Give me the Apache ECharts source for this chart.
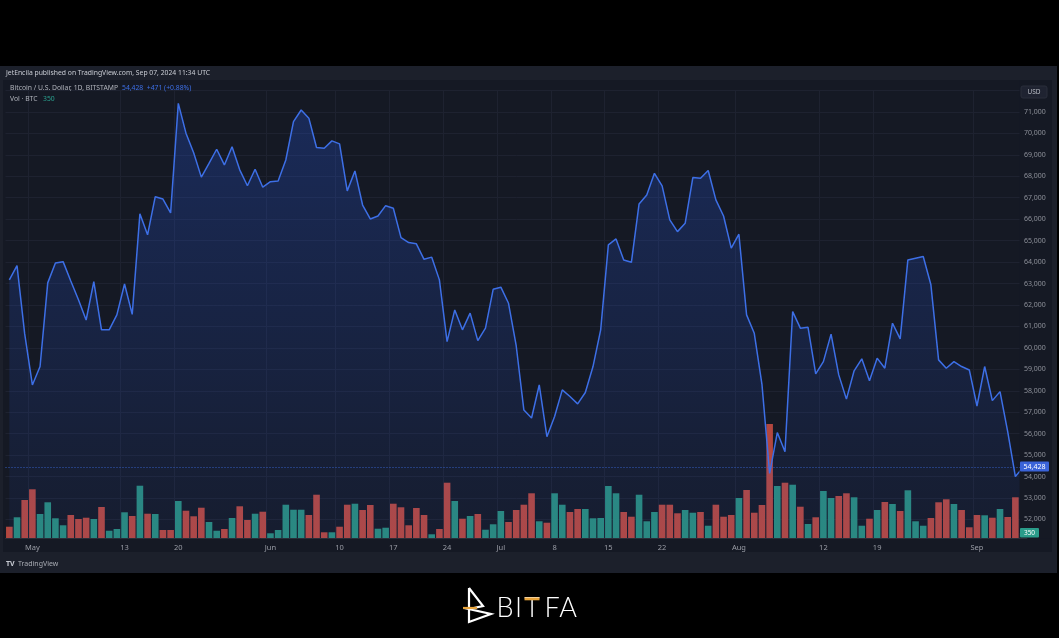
<!DOCTYPE html>
<html><head><meta charset="utf-8">
<script src="https://cdn.jsdelivr.net/npm/echarts/dist/echarts.min.js"></script>
<style>html,body{margin:0;padding:0;background:#000;}#c{width:1059px;height:638px;}</style>
</head><body><div id="c"></div>
<script>
// ---- data ----
const startDate = '2024-04-28';
const dayCount = 133;
const closes = [
63168,63835,60650,58270,59130,63030,63960,64020,63120,62240,61300,63090,60840,60840,61540,62980,61560,66250,65270,67050,66940,66290,71400,70010,69100,67960,68600,69260,68530,69380,68300,67560,68330,67490,
67750,67780,68760,70550,71090,70710,69340,69310,69650,69510,67320,68250,66660,66010,66150,66630,66510,65140,64910,64850,64130,64230,63170,60290,61770,60840,61620,60340,60920,62730,
62830,62080,60100,57100,56730,58270,55860,56800,58040,57730,57390,57920,59130,60840,64800,65080,64100,63990,66710,67130,68140,67550,65970,65420,65810,67940,67910,68270,66900,66150,64650,
65300,61540,60680,58300,54150,56050,55160,61690,60920,60960,58790,59360,60640,58740,57610,58930,59490,58470,59520,59050,61150,60420,64100,64180,64260,62940,59440,59050,59360,59130,58970,
57290,59130,57540,57960,56100,54000,54428];
const volumes = [
790,1450,2660,3410,1680,2500,1380,890,1610,1330,1420,1330,2170,510,630,1800,1540,3660,1700,1680,560,560,2590,1910,1520,2120,1120,510,630,1400,2220,1260,1700,1840,
330,560,2330,1980,1980,1610,3030,400,400,790,2330,2400,1960,2310,650,720,2400,2150,890,2100,1610,260,630,3870,2590,1350,1540,1680,580,960,
1890,1120,1960,2330,3130,1170,1070,3130,2330,1820,2030,2030,1380,1400,3640,3130,1820,1490,3030,1170,1820,2330,2330,1730,1960,1770,1820,860,2330,1490,1610,
2800,3360,1770,2310,7980,3640,3870,3730,2190,980,1450,3290,2800,2940,3130,2850,860,1350,1960,2520,2380,1890,3340,1170,860,1400,2500,2710,2380,1960,750,
1610,1590,1420,2030,1470,2850,350];
// u = up (teal) bar, d = down (red) bar, one per day
const volDir = (
'dudduuuudd' + 'duduuududu' + 'dduddduudu' + 'dduduuuuud' + 'dduddudduu' +
'ddddduddud' + 'uduuuddddu' + 'duudduuuuu' + 'dduuuddduu' + 'dudddudddd' +
'udududuudd' + 'uudududuuu' + 'dddudddudu' + 'ddu').split('');
const tickDates = ['2024-05-01','2024-05-13','2024-05-20','2024-06-01','2024-06-10','2024-06-17','2024-06-24','2024-07-01','2024-07-08','2024-07-15','2024-07-22','2024-08-01','2024-08-12','2024-08-19','2024-09-01'];
const tickLabels = ['May','13','20','Jun','10','17','24','Jul','8','15','22','Aug','12','19','Sep'];
const lastPrice = 54428;
const lastVol = 350;

// ---- build ----
const dates = [];
{
  const d0 = new Date(startDate + 'T00:00:00Z');
  for (let i = 0; i < dayCount; i++) {
    const d = new Date(d0.getTime() + i * 86400000);
    dates.push(d.toISOString().slice(0, 10));
  }
}
const UP = '#2a8a7b', DOWN = '#b3473f';
const isTick = (i, v) => tickDates.indexOf(v) >= 0;
const volData = volumes.map((v, i) => ({ value: v, itemStyle: { color: volDir[i] === 'u' ? UP : DOWN } }));

const PLOT = '#151924', BAND = '#1c202b', GRIDC = '#1e2230';
const FONT = 'Noto Sans, Lato, sans-serif';
const chart = echarts.init(document.getElementById('c'), null, { renderer: 'canvas' });
const fmt = v => v.toLocaleString('en-US');

const logoLetters = [['B', 505], ['I', 518.5], ['T', 532], ['F', 552], ['A', 568]];
const logoText = logoLetters.map(([ch, cx]) => ({
  type: 'text', z: 20, x: cx, y: 608,
  style: { text: ch, fill: '#ffffff', font: '300 27px Lato, ' + FONT, align: 'center', verticalAlign: 'middle' }
}));

chart.setOption({
  backgroundColor: '#000',
  animation: false,
  grid: [
    { left: 5.5, width: 1021.4, top: 90.5, height: 450.4 },
    { left: 5.5, width: 1021.4, top: 398, height: 140 }
  ],
  xAxis: [
    { gridIndex: 0, type: 'category', data: dates, boundaryGap: true,
      axisLine: { show: false }, axisTick: { show: false }, axisLabel: { show: false },
      splitLine: { show: true, interval: isTick, lineStyle: { color: GRIDC, width: 1 } } },
    { gridIndex: 1, type: 'category', data: dates, boundaryGap: true, z: 10,
      axisLine: { show: true, lineStyle: { color: '#2a2e39' } }, axisTick: { show: false },
      axisLabel: { interval: isTick, color: '#9a9da6', fontSize: 7.5, fontFamily: FONT, margin: 6,
        formatter: v => { const k = tickDates.indexOf(v); return k >= 0 ? tickLabels[k] : ''; } },
      splitLine: { show: false } }
  ],
  yAxis: [
    { gridIndex: 0, type: 'value', position: 'right', min: 51000, max: 72000, interval: 1000,
      axisLine: { show: false }, axisTick: { show: false }, axisLabel: { show: false },
      splitLine: { show: true, lineStyle: { color: GRIDC, width: 1 } } },
    { gridIndex: 0, type: 'value', position: 'right', min: 51000, max: 72000, interval: 1000, z: 10,
      axisLine: { show: false }, axisTick: { show: false }, splitLine: { show: false },
      axisLabel: { color: '#8e919a', fontSize: 7, fontFamily: FONT, margin: -3,
        formatter: v => (v >= 72000 || v < 52000) ? '' : fmt(v) } },
    { gridIndex: 1, type: 'value', min: 0, max: 9800, show: false, splitLine: { show: false } }
  ],
  series: [
    { type: 'bar', xAxisIndex: 1, yAxisIndex: 2, data: volData, barWidth: '86%', z: 1 },
    { type: 'line', xAxisIndex: 0, yAxisIndex: 0, data: closes, symbol: 'none', z: 2,
      lineStyle: { color: '#3d6fe6', width: 1.5 },
      areaStyle: { origin: 'start', color: new echarts.graphic.LinearGradient(0, 0, 0, 1, [
        { offset: 0, color: 'rgba(41,98,255,0.34)' }, { offset: 1, color: 'rgba(41,98,255,0.07)' }]) },
      markLine: { silent: true, symbol: 'none', label: { show: false },
        lineStyle: { color: 'rgba(61,111,230,0.8)', type: [1, 2], width: 1 },
        data: [{ yAxis: lastPrice }] } }
  ],
  graphic: [
    { type: 'rect', z: -20, shape: { x: 0, y: 66, width: 1057, height: 507 }, style: { fill: BAND } },
    { type: 'rect', z: -19, shape: { x: 3, y: 80, width: 1049, height: 472 }, style: { fill: PLOT } },
    // price-scale column and time-scale band overlays
    { type: 'rect', z: 3, shape: { x: 1019.5, y: 80, width: 32.5, height: 472 }, style: { fill: PLOT } },
    { type: 'rect', z: 3, shape: { x: 3, y: 538.5, width: 1049, height: 13.5 }, style: { fill: PLOT } },
    // header texts
    { type: 'text', z: 20, left: 6, top: 70, style: { text: 'JetEncila published on TradingView.com, Sep 07, 2024 11:34 UTC', fill: '#c9ccd4', font: '6.8px ' + FONT } },
    { type: 'text', z: 20, left: 10, top: 85, style: { text: 'Bitcoin / U.S. Dollar, 1D, BITSTAMP', fill: '#b0b3bb', font: '6.8px ' + FONT } },
    { type: 'text', z: 20, left: 122, top: 85, style: { text: '54,428  +471 (+0.88%)', fill: '#3d6fe6', font: '6.8px ' + FONT } },
    { type: 'text', z: 20, left: 10, top: 96, style: { text: 'Vol · BTC', fill: '#b0b3bb', font: '6.8px ' + FONT } },
    { type: 'text', z: 20, left: 43, top: 96, style: { text: String(lastVol), fill: '#2aa08e', font: '6.8px ' + FONT } },
    // USD box
    { type: 'rect', z: 20, shape: { x: 1021, y: 86, width: 26, height: 12, r: 2 }, style: { fill: '#1f2331', stroke: '#2a2e3b' } },
    { type: 'text', z: 21, x: 1034, y: 92, style: { text: 'USD', fill: '#b8bbc3', font: '6.5px ' + FONT, align: 'center', verticalAlign: 'middle' } },
    // last price label
    { type: 'rect', z: 20, shape: { x: 1020, y: 461.5, width: 29, height: 10, r: 1 }, style: { fill: '#3a63d8' } },
    { type: 'text', z: 21, x: 1034.5, y: 466.7, style: { text: fmt(lastPrice), fill: '#ffffff', font: '7px ' + FONT, align: 'center', verticalAlign: 'middle' } },
    // last volume label
    { type: 'rect', z: 20, shape: { x: 1020, y: 528, width: 19, height: 9.5, r: 1 }, style: { fill: '#2a9c8a' } },
    { type: 'text', z: 21, x: 1029.5, y: 533, style: { text: String(lastVol), fill: '#ffffff', font: '6.5px ' + FONT, align: 'center', verticalAlign: 'middle' } },
    // TradingView footer
    { type: 'text', z: 20, left: 6, top: 560, style: { text: 'TV', fill: '#c9ccd4', font: 'bold 7px ' + FONT } },
    { type: 'text', z: 20, left: 18, top: 560, style: { text: 'TradingView', fill: '#a9acb4', font: '7px ' + FONT } },
    // BITFA logo
    { type: 'polyline', z: 20, shape: { points: [[469, 588], [483, 606], [469, 609], [491, 614], [469, 622], [469, 588]] }, style: { stroke: '#ffffff', lineWidth: 2.2, fill: null, lineJoin: 'miter' } },
    { type: 'line', z: 21, shape: { x1: 463, y1: 608, x2: 477, y2: 608 }, style: { stroke: '#e8a33a', lineWidth: 2.2 } },
    ...logoText,
    { type: 'rect', z: 21, shape: { x: 524.5, y: 597.5, width: 15, height: 2.8 }, style: { fill: '#e8a33a' } }
  ]
});
</script></body></html>
